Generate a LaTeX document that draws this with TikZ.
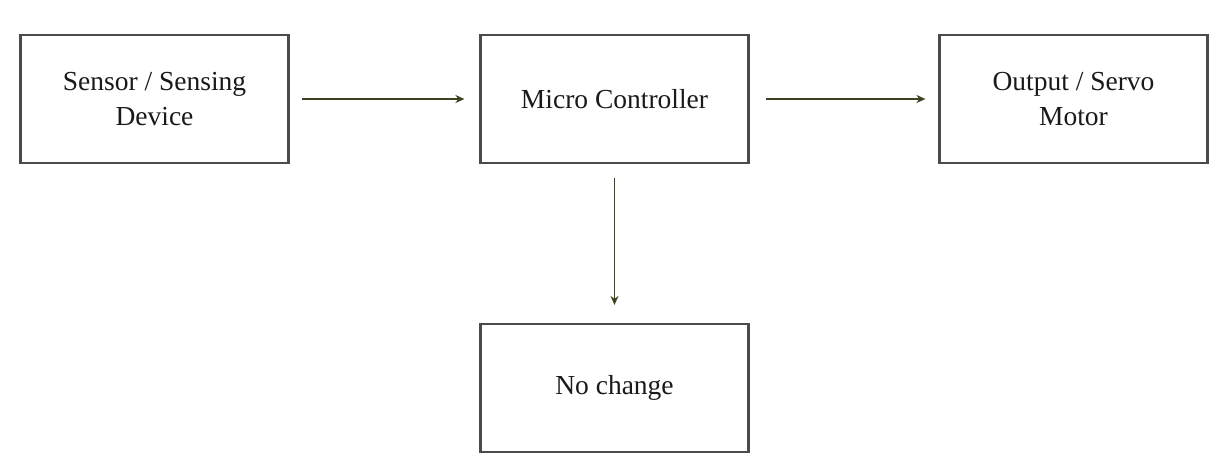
\documentclass[tikz,border=0pt]{standalone}
\usepackage{fontspec}
\setmainfont{Liberation Serif}
\usetikzlibrary{arrows.meta}
\definecolor{boxline}{HTML}{4A4C4A}
\definecolor{arrowcol}{HTML}{3E4220}
\definecolor{txt}{HTML}{1A1A1A}
\tikzset{
  blockbox/.style={draw=boxline, line width=2.2pt, fill=white, rectangle,
    minimum width=268pt, minimum height=128pt, inner sep=0pt,
    align=center, text=txt, font=\fontsize{27.5}{35}\selectfont},
  flow/.style={draw=arrowcol, line width=1.8pt, -{Stealth[length=9pt,width=8pt]}}
}
\begin{document}
\begin{tikzpicture}[x=1pt,y=-1pt]
\useasboundingbox[fill=white] (0,0) rectangle (1215,461);
\node[blockbox] (sensor) at (154.5,99) {Sensor / Sensing\\Device};
\node[blockbox] (micro) at (614.5,99) {Micro Controller};
\node[blockbox] (output) at (1073.5,99) {Output / Servo\\Motor};
\node[blockbox] (nochange) at (614.5,388) {No change};
\draw[flow, shorten <=12pt, shorten >=15pt] (sensor.east) -- (micro.west);
\draw[flow, shorten <=16pt, shorten >=13pt] (micro.east) -- (output.west);
\draw[flow, shorten <=14pt, shorten >=18pt] (micro.south) -- (nochange.north);
\end{tikzpicture}
\end{document}
